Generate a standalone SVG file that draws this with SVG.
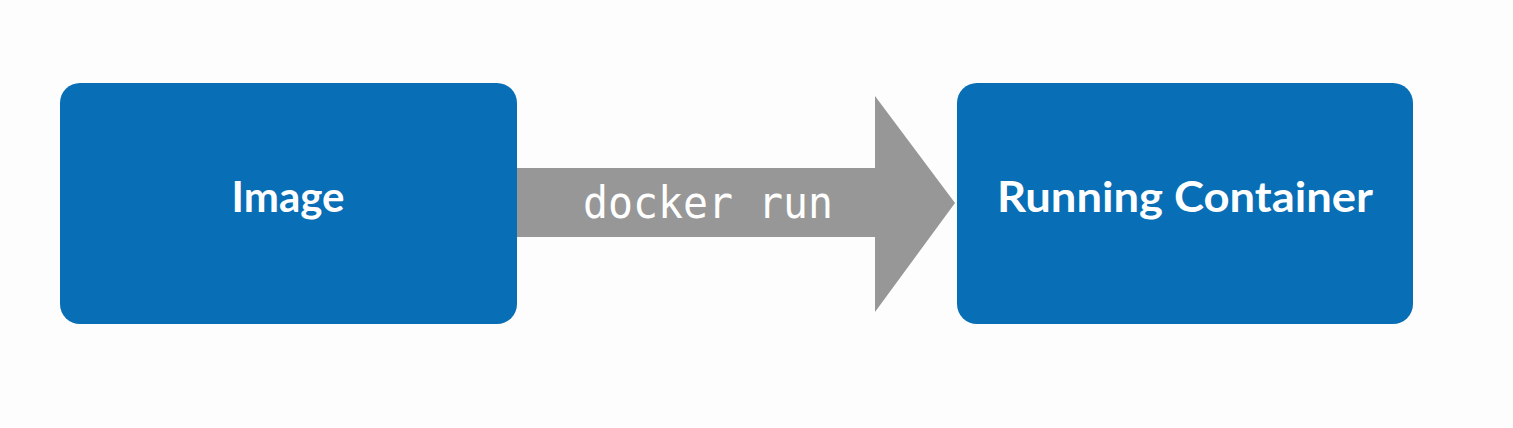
<svg xmlns="http://www.w3.org/2000/svg" width="1513" height="428" viewBox="0 0 1513 428">
<style>
.node{fill:#086eb5}
.lbl{font-family:Lato,"Noto Sans",sans-serif;font-weight:bold;fill:#ffffff;font-size:42px;text-anchor:middle}
.cmd{font-family:"DejaVu Sans Mono","Liberation Mono",monospace;fill:#ffffff;font-size:44px}
</style>
<rect width="1513" height="428" fill="#fdfdfd"/>
<g id="connectors">
<path d="M517 168 H875 V96 L955 203 L875 312 V237 H517 Z" fill="#979797"/>
<text class="cmd" x="583" y="218" textLength="250" lengthAdjust="spacingAndGlyphs">docker run</text>
</g>
<g id="image">
<rect class="node" x="60" y="83" width="457" height="241" rx="20"/>
<text class="lbl" x="288" y="212">Image</text>
</g>
<g id="running-container">
<rect class="node" x="957" y="83" width="456" height="241" rx="20"/>
<text class="lbl" x="1185" y="212" textLength="376" lengthAdjust="spacingAndGlyphs">Running Container</text>
</g>
</svg>
